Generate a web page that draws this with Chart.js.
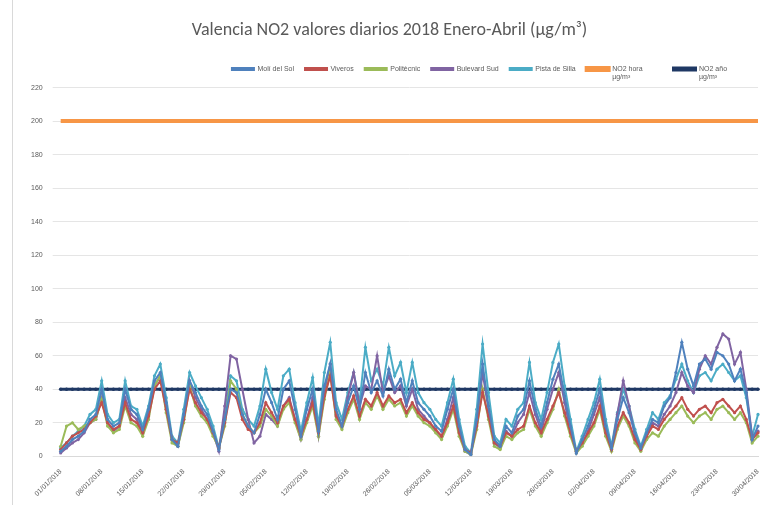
<!DOCTYPE html>
<html>
<head>
<meta charset="utf-8">
<script src="https://cdn.jsdelivr.net/npm/chart.js@4"></script>
<style>
  html, body { margin: 0; padding: 0; background: #fff; }
  #wrap { position: absolute; left: 12px; top: 0; width: 757px; height: 505px; border-left: 1px solid #d9d9d9; }
</style>
</head>
<body>
<div id="wrap"><canvas id="chart"></canvas></div>
<script>
// 1 Jan - 30 Apr 2018, one label per day
const days = [];
for (let d = new Date(2018, 0, 1); d <= new Date(2018, 3, 30); d.setDate(d.getDate() + 1)) {
    const dd = String(d.getDate()).padStart(2, '0');
    const mm = String(d.getMonth() + 1).padStart(2, '0');
    days.push(`${dd}/${mm}/2018`);
}

const yTicks = [0, 20, 40, 60, 80, 100, 120, 140, 160, 180, 200, 220];

const moliDelSol = [
    3, 6, 10, 12, 15, 22, 25, 40, 22, 18,
    20, 40, 28, 25, 16, 28, 45, 50, 32, 10,
    6, 25, 45, 38, 30, 25, 15, 4, 22, 40,
    38, 25, 18, 14, 25, 40, 32, 22, 40, 45,
    28, 12, 28, 40, 15, 42, 55, 28, 18, 32,
    42, 28, 50, 38, 45, 36, 52, 40, 46, 32,
    45, 32, 28, 24, 18, 15, 28, 40, 18, 4,
    1, 22, 55, 30, 10, 6, 18, 14, 24, 28,
    45, 28, 18, 32, 46, 55, 36, 18, 2, 10,
    18, 28, 40, 18, 5, 22, 35, 26, 14, 5,
    14, 22, 20, 30, 35, 50, 68, 52, 42, 55,
    58, 52, 62, 60, 55, 45, 52, 38, 10, 18
];
const viveros = [
    4, 8, 12, 14, 16, 20, 24, 32, 20, 16,
    18, 32, 22, 20, 14, 24, 40, 45, 28, 10,
    8, 22, 40, 32, 26, 22, 14, 5, 20, 38,
    35, 22, 16, 14, 20, 32, 26, 20, 30, 34,
    22, 12, 22, 32, 14, 36, 48, 24, 18, 28,
    36, 24, 34, 30, 38, 30, 36, 32, 34, 26,
    32, 26, 22, 20, 16, 12, 20, 30, 14, 4,
    2, 18, 38, 24, 8, 6, 14, 12, 16, 18,
    30, 20, 14, 22, 30, 38, 26, 14, 3, 8,
    14, 20, 30, 14, 4, 18, 26, 20, 10, 4,
    12, 18, 16, 22, 26, 30, 35, 28, 24, 28,
    30, 26, 32, 34, 30, 26, 30, 22, 10, 14
];
const politecnic = [
    6, 18, 20, 16, 18, 20, 22, 34, 18, 14,
    16, 30, 20, 18, 12, 22, 42, 48, 26, 8,
    6, 20, 42, 30, 24, 20, 12, 5, 18, 45,
    40, 25, 18, 14, 18, 28, 24, 18, 28, 32,
    20, 10, 20, 30, 12, 34, 50, 22, 16, 26,
    34, 22, 32, 28, 36, 28, 34, 30, 32, 24,
    30, 24, 20, 18, 14, 10, 18, 28, 12, 3,
    1, 16, 40, 22, 6, 4, 12, 10, 14, 16,
    28, 18, 12, 20, 28, 40, 24, 12, 2, 6,
    12, 18, 28, 12, 3, 16, 24, 18, 8, 3,
    10, 14, 12, 18, 22, 26, 30, 24, 20, 24,
    26, 22, 28, 30, 26, 22, 26, 20, 8, 12
];
const bulevardSud = [
    2, 5, 8, 10, 14, 20, 22, 35, 20, 15,
    18, 35, 25, 22, 14, 25, 42, 48, 30, 10,
    6, 22, 45, 35, 28, 22, 14, 3, 30, 60,
    58, 40, 22, 8, 12, 25, 22, 18, 30, 35,
    22, 10, 22, 35, 12, 38, 55, 25, 18, 35,
    50, 30, 42, 40, 60, 38, 48, 38, 42, 30,
    40, 28, 24, 20, 15, 12, 22, 35, 15, 3,
    1, 20, 50, 28, 8, 5, 15, 12, 20, 25,
    38, 25, 15, 28, 40, 50, 32, 15, 2, 8,
    15, 25, 35, 15, 4, 25, 45, 30, 12, 4,
    12, 20, 18, 25, 30, 38, 50, 42, 38, 52,
    60, 55, 65, 73, 70, 55, 62, 40, 12, 15
];
const pistaSilla = [
    5, 8, 12, 15, 18, 25, 28, 45, 25, 20,
    22, 45, 30, 28, 18, 30, 48, 55, 35, 12,
    8, 28, 50, 42, 35, 28, 18, 5, 25, 48,
    45, 28, 22, 18, 30, 52, 38, 28, 48, 52,
    32, 15, 32, 47, 18, 50, 68, 32, 22, 38,
    50, 32, 65, 45, 52, 42, 65, 48, 56, 38,
    56, 38, 32, 28, 22, 18, 32, 46, 22, 6,
    2, 28, 67, 38, 12, 8, 22, 18, 28, 32,
    56, 32, 22, 38, 56, 67, 42, 22, 3, 12,
    22, 32, 46, 22, 6, 26, 40, 30, 16, 6,
    16, 26, 22, 32, 36, 46, 55, 45, 38, 48,
    50, 45, 52, 55, 50, 45, 48, 35, 12, 25
];
const limiteHora = 200;
const limiteAnual = 40;

const station = (label, data, color) => ({
    label, data,
    borderColor: color,
    backgroundColor: color,
    borderWidth: 2,
    pointRadius: 1.6,
    pointBorderWidth: 0,
    tension: 0
});

// a bit more room below the legend, like the original
const legendGap = {
    id: 'legendGap',
    beforeInit(chart) {
        const fit = chart.legend.fit;
        chart.legend.fit = function () {
            fit.bind(chart.legend)();
            this.height += 5;
        };
    }
};

new Chart(document.getElementById('chart'), {
    type: 'line',
    data: {
        labels: days,
        datasets: [
            station('Molí del Sol', moliDelSol, '#4F81BD'),
            station('Viveros', viveros, '#C0504D'),
            station('Politècnic', politecnic, '#9BBB59'),
            station('Bulevard Sud', bulevardSud, '#8064A2'),
            station('Pista de Silla', pistaSilla, '#4BACC6'),
            {
                label: ['NO2 hora', 'µg/m³'],
                data: days.map(() => limiteHora),
                borderColor: '#F79646',
                backgroundColor: '#F79646',
                borderWidth: 4,
                pointRadius: 0
            },
            {
                label: ['NO2 año', 'µg/m³'],
                data: days.map(() => limiteAnual),
                borderColor: '#1F3864',
                backgroundColor: '#1F3864',
                borderWidth: 3,
                pointRadius: 1.8,
                pointBorderWidth: 0
            }
        ]
    },
    plugins: [legendGap],
    options: {
        responsive: true,
        maintainAspectRatio: false,
        animation: false,
        layout: { padding: { left: 8, right: 12, top: 6, bottom: 4 } },
        plugins: {
            title: {
                display: true,
                text: 'Valencia NO2 valores diarios 2018 Enero-Abril (µg/m³)',
                color: '#595959',
                font: { family: 'Calibri, Carlito, "Open Sans", sans-serif', size: 18, weight: 'normal' },
                padding: { top: 14, bottom: 13 }
            },
            legend: {
                position: 'top',
                align: 'end',
                labels: {
                    color: '#595959',
                    font: { size: 7 },
                    boxWidth: 22,
                    boxHeight: 2,
                    padding: 11
                }
            },
            tooltip: { enabled: false }
        },
        scales: {
            x: {
                grid: { display: false },
                border: { color: '#d9d9d9' },
                ticks: {
                    autoSkip: false,
                    minRotation: 45,
                    maxRotation: 45,
                    color: '#595959',
                    font: { size: 7 },
                    callback: function (v, i) { return i % 7 === 0 ? days[i] : null; }
                }
            },
            y: {
                min: 0,
                max: 220,
                afterBuildTicks: (axis) => { axis.ticks = yTicks.map(v => ({ value: v })); },
                grid: { color: '#e5e5e5' },
                border: { display: false },
                ticks: { color: '#595959', font: { size: 7 }, padding: 10 }
            }
        }
    }
});
</script>
</body>
</html>
